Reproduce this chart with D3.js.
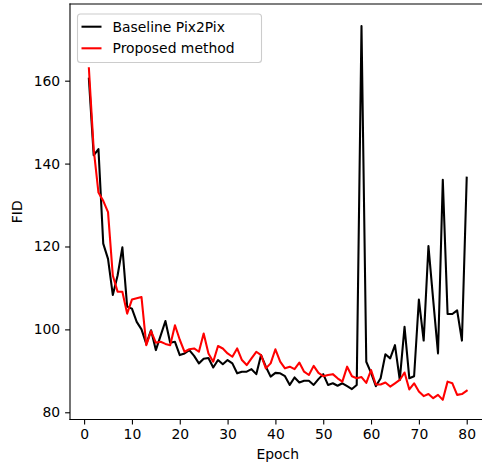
<!DOCTYPE html>
<html><head><meta charset="utf-8">
<script src="https://cdn.jsdelivr.net/npm/d3@7"></script>
<style>body{margin:0;background:#fff}svg{display:block;font-family:"DejaVu Sans",sans-serif}</style>
</head><body><svg id="c" width="482" height="464"></svg>
<script>
const epochs = d3.range(1, 81);
const baseline = [160.5,142,143.5,120.7,117,108.3,113,119.8,105.5,105,101.8,100,96.5,99.8,95,98.5,102,96.8,97,93.8,94.2,95,93.6,91.8,92.9,93.1,90.8,92.6,91.6,92.6,91.8,89.4,89.8,89.8,90.4,89.2,93.8,91,88.6,89.5,89.4,88.7,86.6,88.4,87.2,87.6,87.6,86.6,88,89.2,86.6,87,86.4,87,86.3,85.6,86.6,173.2,92.2,89.5,86.3,88.2,94,93,96.2,87.8,100.6,88.2,88.7,107.2,97.3,120.1,107,94.2,136.1,103.7,103.7,104.6,97.3,136.6];
const proposed = [163,143.5,133,131,128.3,113,109.1,109.1,103.8,107.2,107.5,107.8,96.2,99.6,96.8,97,96.5,96.2,101,97.5,94.6,95.2,95.4,94.6,99,94.2,92.2,96,95.4,94.2,93.4,95.4,92.6,91.4,93,94.6,93.8,90.6,91.8,95.2,92.2,90.6,91,90.4,92,89.8,89,91.2,89.5,88.7,89,89.2,88.2,87.4,91,88.7,88.2,88.5,87.1,90.2,86.7,86.7,87.2,86.2,87,87.8,89.6,85.5,87,85,83.9,84.4,83.4,84.2,83,87.4,87,84.2,84.4,85.2];
const xTicks = [0,10,20,30,40,50,60,70,80];
const yTicks = [80,100,120,140,160];
const seriesNames = ["Baseline Pix2Pix","Proposed method"];
const seriesColors = ["#000000","#ff0000"];

const svg = d3.select("#c");
const L = 70, T = 4, B = 419.5, R = 485.6;
const x = d3.scaleLinear().domain([-2.95, 83.95]).range([L, R]);
const y = d3.scaleLinear().domain([78.26, 178.5]).range([B, T]);

svg.append("defs").append("clipPath").attr("id","clip")
  .append("rect").attr("x",L).attr("y",T).attr("width",R-L).attr("height",B-T);

const line = d3.line().x((d,i)=>x(epochs[i])).y(d=>y(d));
const g = svg.append("g").attr("clip-path","url(#clip)");
[baseline, proposed].forEach((s,k)=>{
  g.append("path").datum(s).attr("d",line).attr("fill","none")
   .attr("stroke",seriesColors[k]).attr("stroke-width",2.08)
   .attr("stroke-linejoin","round").attr("stroke-linecap","square");
});

// axes
const xa = svg.append("g").attr("transform",`translate(0,${B})`)
  .call(d3.axisBottom(x).tickValues(xTicks).tickSize(4.9).tickPadding(4.9).tickSizeOuter(0));
const ya = svg.append("g").attr("transform",`translate(${L},0)`)
  .call(d3.axisLeft(y).tickValues(yTicks).tickSize(4.9).tickPadding(4.9).tickSizeOuter(0));
[xa, ya].forEach(a=>{
  a.select(".domain").remove();
  a.selectAll(".tick line").attr("stroke","#000").attr("stroke-width",1.1);
  a.selectAll(".tick text").attr("fill","#000").attr("font-size","13.9px").attr("font-family","DejaVu Sans");
});
// spines (right spine lies outside the visible canvas)
const sp = svg.append("g").attr("stroke","#000").attr("stroke-width",1.1).attr("stroke-linecap","square");
sp.append("line").attr("x1",L).attr("x2",L).attr("y1",T).attr("y2",B);
sp.append("line").attr("x1",L).attr("x2",R).attr("y1",T).attr("y2",T);
sp.append("line").attr("x1",L).attr("x2",R).attr("y1",B).attr("y2",B);

svg.append("text").attr("x",(L+R)/2).attr("y",459).attr("text-anchor","middle")
  .attr("font-size","13.9px").text("Epoch");
svg.append("text").attr("transform",`translate(22,${(T+B)/2}) rotate(-90)`).attr("text-anchor","middle")
  .attr("font-size","13.9px").text("FID");

// legend
const lg = svg.append("g");
lg.append("rect").attr("x",77.5).attr("y",14).attr("width",184).attr("height",48.5)
  .attr("rx",3).attr("fill","#fff").attr("fill-opacity",0.8).attr("stroke","#cccccc").attr("stroke-width",1.1);
seriesNames.forEach((n,k)=>{
  const yy = 26.7 + k*21.6;
  lg.append("line").attr("x1",81.5).attr("x2",101.5).attr("y1",yy).attr("y2",yy)
    .attr("stroke",seriesColors[k]).attr("stroke-width",2.08);
  lg.append("text").attr("x",112.5).attr("y",yy+5).attr("font-size","13.9px").text(n);
});
</script></body></html>
